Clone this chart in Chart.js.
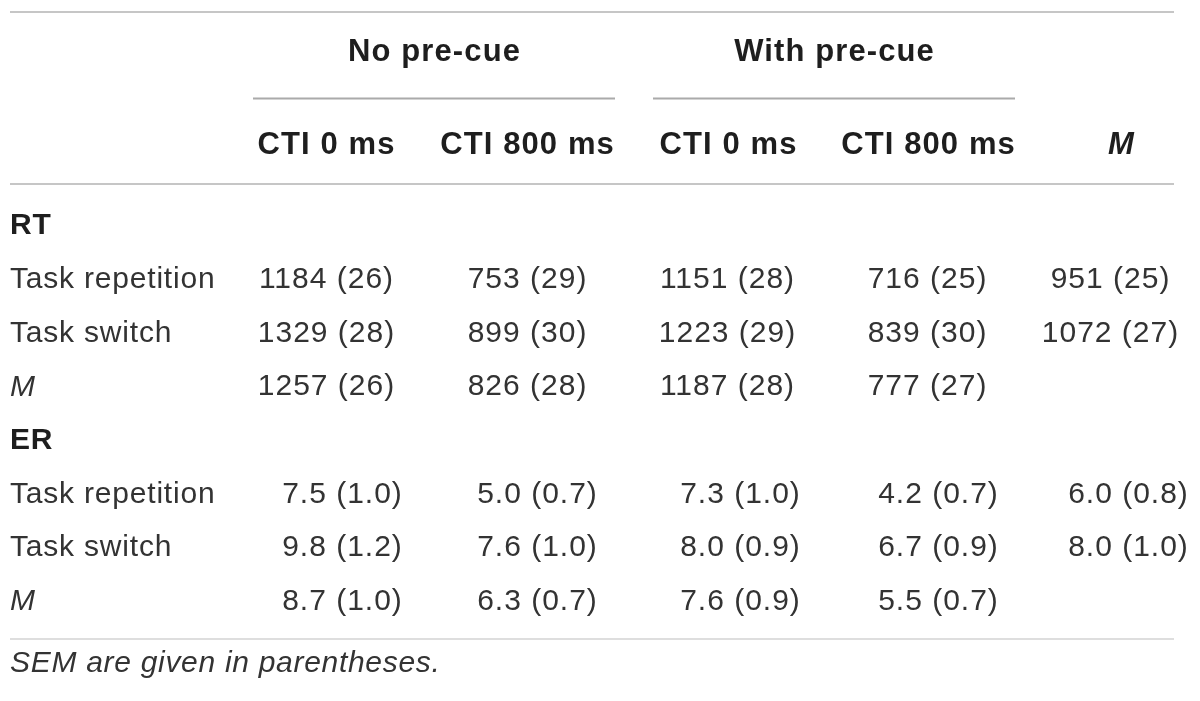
<!DOCTYPE html>
<html lang="en">
  <head>
    <meta charset="UTF-8">
    <script src="https://cdn.jsdelivr.net/npm/chart.js"></script>
    <style>
      html, body { margin: 0; padding: 0; background: #fff; }
      #wrap { width: 1200px; height: 701px; position: relative; }
    </style>
  </head>
  <body>
    <div id="wrap"><canvas id="tableChart"></canvas></div>

    <script>
      // table content
      const groupLabels = ['No pre-cue', 'With pre-cue'];
      const columnLabels = ['CTI 0 ms', 'CTI 800 ms', 'CTI 0 ms', 'CTI 800 ms', 'M'];
      const sectionLabels = ['RT', 'ER'];
      const rowLabels = ['Task repetition', 'Task switch', 'M'];

      const rtMeans = [
        [1184, 753, 1151, 716, 951],
        [1329, 899, 1223, 839, 1072],
        [1257, 826, 1187, 777, null]
      ];
      const rtSem = [
        [26, 29, 28, 25, 25],
        [28, 30, 29, 30, 27],
        [26, 28, 28, 27, null]
      ];
      const erMeans = [
        [7.5, 5.0, 7.3, 4.2, 6.0],
        [9.8, 7.6, 8.0, 6.7, 8.0],
        [8.7, 6.3, 7.6, 5.5, null]
      ];
      const erSem = [
        [1.0, 0.7, 1.0, 0.7, 0.8],
        [1.2, 1.0, 0.9, 0.9, 1.0],
        [1.0, 0.7, 0.9, 0.7, null]
      ];
      const note = 'SEM are given in parentheses.';

      const FONT = '"Liberation Sans", Arial, sans-serif';

      // layout (pixels along the hidden x scale)
      const colCenters = [326, 527, 728, 928, 1121];
      const rtCenters = [326, 527, 727, 927, 1110];
      const erCenters = [342, 537, 740, 938, 1128];

      const tablePlugin = {
        id: 'tablePlugin',
        afterDraw(chart) {
          const ctx = chart.ctx;
          const xs = chart.scales.x;
          const ys = chart.scales.y;
          const X = v => xs.getPixelForValue(v);
          const Y = v => ys.getPixelForValue(v);

          ctx.save();
          ctx.textBaseline = 'middle';

          function hline(x1, x2, y, w, c) {
            ctx.beginPath();
            ctx.lineWidth = w;
            ctx.strokeStyle = c;
            ctx.moveTo(X(x1), y);
            ctx.lineTo(X(x2), y);
            ctx.stroke();
          }
          function text(t, x, y, font, align, color, spacing) {
            ctx.font = font;
            ctx.letterSpacing = (spacing || 0) + 'px';
            ctx.fillStyle = color || '#262626';
            let px = X(x);
            const w = ctx.measureText(t).width - (spacing || 0);
            ctx.textAlign = 'left';
            if (align === 'center') px -= w / 2;
            else if (align === 'right') px -= w;
            ctx.fillText(t, px, y);
          }

          // rules
          hline(10, 1174, 12, 2, '#c6c6c6');
          hline(253, 615, 98.5, 2, '#aaaaaa');
          hline(653, 1015, 98.5, 2, '#aaaaaa');
          hline(10, 1174, 184, 2, '#c6c6c6');
          hline(10, 1174, 639, 1.2, '#bdbdbd');

          // group headers
          text(groupLabels[0], 434, 52, 'bold 31px ' + FONT, 'center', '#1e1e1e', 1.1);
          text(groupLabels[1], 834, 52, 'bold 31px ' + FONT, 'center', '#1e1e1e', 1.1);

          // column headers
          columnLabels.forEach((lab, i) => {
            const f = lab === 'M' ? 'italic bold 31px ' : 'bold 31px ';
            text(lab, colCenters[i], 145, f + FONT, 'center', '#1e1e1e', 1.1);
          });

          // body
          const sections = [
            { means: rtMeans, sem: rtSem, centers: rtCenters, dec: 0 },
            { means: erMeans, sem: erSem, centers: erCenters, dec: 1 }
          ];
          sections.forEach((sec, s) => {
            const base = s * 4;
            text(sectionLabels[s], 10, Y(base) + 1, 'bold 30px ' + FONT, 'left', '#1e1e1e', 0.8);
            rowLabels.forEach((lab, r) => {
              const y = Y(base + 1 + r) + 1.5;
              const f = lab === 'M' ? 'italic 300 30px ' : '300 30px ';
              text(lab, 10, y, f + FONT, 'left', '#333', 0.8);
              sec.means[r].forEach((m, c) => {
                if (m === null) return;
                const str = m.toFixed(sec.dec) + ' (' + sec.sem[r][c].toFixed(sec.dec) + ')';
                text(str, sec.centers[c], y, '300 30px ' + FONT, 'center', '#333', 1);
              });
            });
          });

          // footnote
          text(note, 10, 664, 'italic 300 30px ' + FONT, 'left', '#333', 0.7);
          ctx.restore();
        }
      };

      const ctx = document.getElementById('tableChart').getContext('2d');
      new Chart(ctx, {
        type: 'scatter',
        data: { datasets: [{ data: [] }] },
        options: {
          responsive: true,
          maintainAspectRatio: false,
          animation: false,
          layout: { padding: { top: 225, bottom: 101, left: 0, right: 0 } },
          plugins: { legend: { display: false }, tooltip: { enabled: false } },
          scales: {
            x: { type: 'linear', min: 0, max: 1200, display: false },
            y: { type: 'linear', min: 0, max: 7, reverse: true, display: false }
          }
        },
        plugins: [tablePlugin]
      });
    </script>
  </body>
</html>
